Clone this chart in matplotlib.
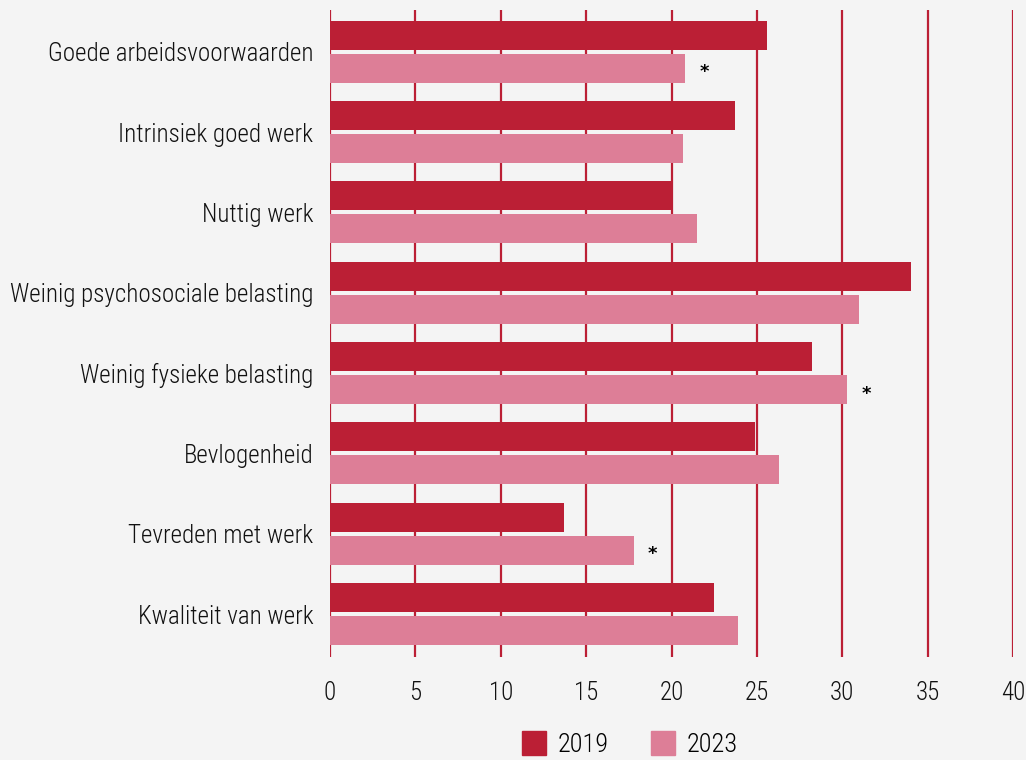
import matplotlib
matplotlib.use("Agg")
import matplotlib.pyplot as plt
from matplotlib.patches import Patch

categories = ["Goede arbeidsvoorwaarden", "Intrinsiek goed werk", "Nuttig werk",
              "Weinig psychosociale belasting", "Weinig fysieke belasting",
              "Bevlogenheid", "Tevreden met werk", "Kwaliteit van werk"]
values_2019 = [25.6, 23.7, 20.0, 34.0, 28.2, 24.9, 13.7, 22.5]
values_2023 = [20.8, 20.7, 21.5, 31.0, 30.3, 26.3, 17.8, 23.9]
significant_2023 = [True, False, False, False, True, False, True, False]
series_labels = ["2019", "2023"]
xticks = [0, 5, 10, 15, 20, 25, 30, 35, 40]

plt.rcParams["font.family"] = ["Roboto Condensed", "Open Sans Condensed", "Barlow Condensed", "DejaVu Sans"]
plt.rcParams["font.weight"] = "light"

dark = "#BB1F35"
pink = "#DD7E97"
bg = "#F4F4F4"
txtc = "#111111"

fig = plt.figure(figsize=(10.26, 7.6), dpi=100, facecolor=bg)
ax = fig.add_axes([330/1026, 1-657/760, (1013-330)/1026, (657-10)/760], facecolor=bg)

n = len(categories)
pos = list(range(n))
off = 0.205
h = 0.36
ax.barh([p - off for p in pos], values_2019, height=h, color=dark, zorder=3, label=series_labels[0])
ax.barh([p + off for p in pos], values_2023, height=h, color=pink, zorder=3, label=series_labels[1])
for p, v, s in zip(pos, values_2023, significant_2023):
    if s:
        ax.text(v + 1.1, p + off + 0.05, "*", ha="center", va="center", fontsize=13, color="black",
                family="DejaVu Sans", fontweight="bold", zorder=4)

ax.set_xlim(0, 40)
ax.set_ylim(n - 1 + 0.535, -0.52)
ax.set_xticks(xticks)
ax.set_yticks(pos)
ax.set_yticklabels(categories)
for x in xticks:
    ax.axvline(x, color=dark, lw=1.6, zorder=1)
for sp in ax.spines.values():
    sp.set_visible(False)
ax.tick_params(axis="x", length=0, pad=17, labelsize=18, colors=txtc)
ax.tick_params(axis="y", length=0, pad=12, labelsize=18, colors=txtc)

handles = [Patch(color=dark, label=series_labels[0]), Patch(color=pink, label=series_labels[1])]
fig.legend(handles=handles, loc="lower center", bbox_to_anchor=(630/1026, -0.027), ncol=2,
           frameon=False, fontsize=19, handlelength=0.9, handleheight=1.0, columnspacing=1.6,
           handletextpad=0.45)

fig.savefig("out.png", dpi=100, facecolor=bg)
